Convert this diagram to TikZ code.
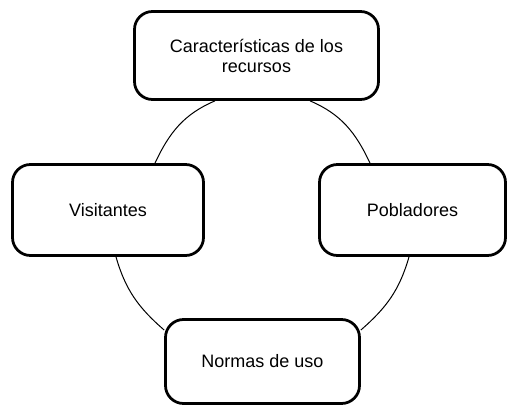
\documentclass[tikz,border=0pt]{standalone}
\usepackage{fontspec}
\setmainfont{Liberation Sans}
\usetikzlibrary{backgrounds}
\begin{document}
\begin{tikzpicture}[x=1pt,y=1pt,
        box/.style={draw,line width=2.75pt,rounded corners=18pt,fill=white,align=center,
            font=\fontsize{18}{20}\selectfont},
        link/.style={line width=1pt}]
                \useasboundingbox (0,0) rectangle (509,408);
                \node[box,minimum width=244pt,minimum height=88pt] (rec) at (256.5,352.5) {Características de los\\recursos};
                \node[box,minimum width=191pt,minimum height=91pt] (vis) at (108,198) {Visitantes};
                \node[box,minimum width=186pt,minimum height=91pt] (pob) at (412.5,198) {Pobladores};
                \node[box,minimum width=194pt,minimum height=84pt] (nor) at (262.5,46.5) {Normas de uso};

                \begin{pgfonlayer}{background}
                \draw[link] ([xshift=-41.5pt]rec.south) to[out=203,in=65] ([xshift=47pt]vis.north);
                \draw[link] ([xshift=53.5pt]rec.south) to[out=-23,in=115] ([xshift=-42.5pt]pob.north);
                \draw[link] ([xshift=8pt]vis.south) to[out=-74,in=139] ([yshift=31.5pt]nor.west);
                \draw[link] ([xshift=-3.5pt]pob.south) to[out=-106,in=41] ([yshift=31.5pt]nor.east);
                \end{pgfonlayer}
            \end{tikzpicture}
\end{document}
